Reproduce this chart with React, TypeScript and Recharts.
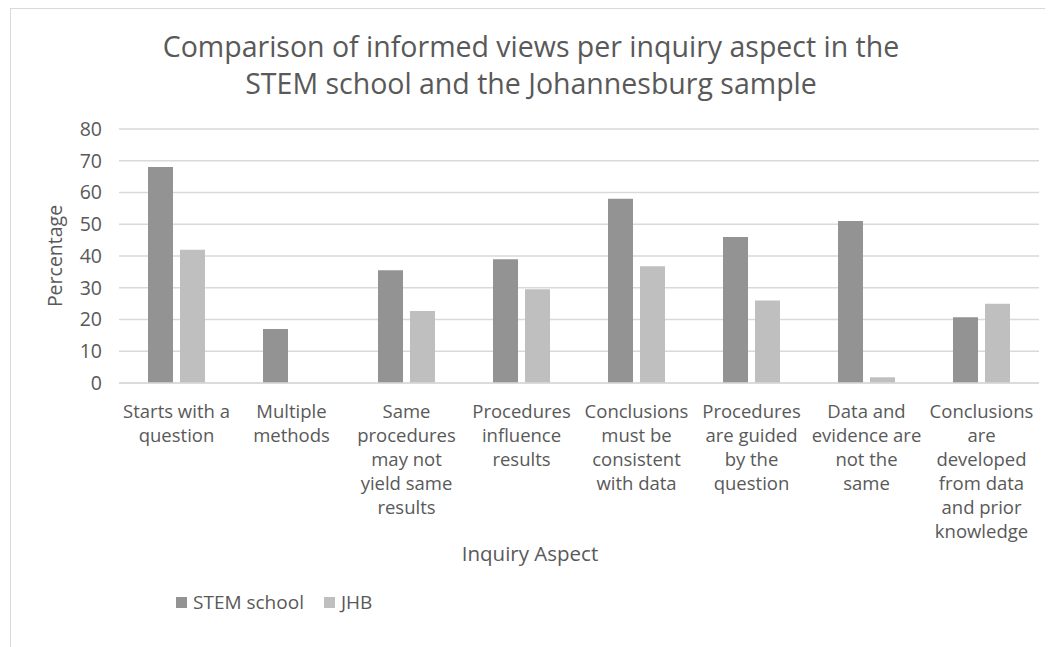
import React from 'react';
import { BarChart, Bar, XAxis, YAxis, CartesianGrid, Legend, Label } from 'recharts';

const categories = [
  'Starts with a\nquestion',
  'Multiple\nmethods',
  'Same\nprocedures\nmay not\nyield same\nresults',
  'Procedures\ninfluence\nresults',
  'Conclusions\nmust be\nconsistent\nwith data',
  'Procedures\nare guided\nby the\nquestion',
  'Data and\nevidence are\nnot the\nsame',
  'Conclusions\nare\ndeveloped\nfrom data\nand prior\nknowledge',
];
const stemSchool = [68, 17, 35.5, 39, 58, 46, 51, 20.7];
const jhb = [42, 0, 22.7, 29.5, 36.8, 26, 1.8, 25];
const yTicks = [0, 10, 20, 30, 40, 50, 60, 70, 80];
const seriesOrder = ['STEM school', 'JHB'];

const FONT = "'Open Sans', 'Liberation Sans', sans-serif";
const TEXT = '#595959';

const data = categories.map((c, i) => ({ aspect: c, stem: stemSchool[i], jhb: jhb[i] }));

const AspectTick = (props: any) => {
  const { x, y, payload } = props;
  const lines: string[] = String(payload.value).split('\n');
  return (
    <text x={x} y={y} textAnchor="middle" fill={TEXT} fontSize={18.5} fontFamily={FONT}>
      {lines.map((l, i) => (
        <tspan key={i} x={x} dy={i === 0 ? 27 : 24}>{l}</tspan>
      ))}
    </text>
  );
};

const LegendBox = (props: any) => {
  const items = [...(props.payload || [])].sort(
    (a: any, b: any) => seriesOrder.indexOf(a.value) - seriesOrder.indexOf(b.value)
  );
  return (
    <div style={{ display: 'flex', alignItems: 'center', fontFamily: FONT, fontSize: 19, color: TEXT }}>
      {items.map((p: any, i: number) => (
        <div key={i} style={{ display: 'flex', alignItems: 'center', marginRight: 20 }}>
          <span style={{ display: 'inline-block', width: 11, height: 11, background: p.color, marginRight: 6 }} />
          <span>{p.value}</span>
        </div>
      ))}
    </div>
  );
};

export default function App() {
  return (
    <div style={{ position: 'relative', marginLeft: 2, width: 1060, height: 660, borderLeft: '1px solid #d9d9d9', borderTop: '1px solid #d9d9d9', fontFamily: FONT }}>
      <div style={{ position: 'absolute', top: 19, left: 0, width: 1040, textAlign: 'center', fontSize: 28.5, lineHeight: '37px', color: TEXT, zIndex: 2 }}>
        Comparison of informed views per inquiry aspect in the<br />STEM school and the Johannesburg sample
      </div>
      <BarChart
        width={1045}
        height={640}
        data={data}
        margin={{ top: 120, right: 17, bottom: 106, left: 40 }}
        barSize={25}
        barGap={7}
      >
        <CartesianGrid vertical={false} stroke="#d9d9d9" strokeWidth={1.5} />
        <XAxis
          dataKey="aspect"
          interval={0}
          height={160}
          tick={<AspectTick />}
          tickLine={false}
          axisLine={{ stroke: '#d9d9d9', strokeWidth: 1.5 }}
        >
          <Label value="Inquiry Aspect" position="bottom" offset={3} dx={-49} fill={TEXT} fontSize={20.5} fontFamily={FONT} />
        </XAxis>
        <YAxis
          width={68}
          domain={[0, 80]}
          ticks={yTicks}
          interval={0}
          tickLine={false}
          axisLine={false}
          tickMargin={11}
          tick={{ fill: TEXT, fontSize: 19.5, fontFamily: FONT }}
        >
          <Label value="Percentage" angle={-90} position="center" dx={-30} fill={TEXT} fontSize={19.5} fontFamily={FONT} />
        </YAxis>
        <Legend
          layout="horizontal"
          verticalAlign="middle"
          align="center"
          wrapperStyle={{ left: 165, top: 580, width: 'auto' }}
          content={<LegendBox />}
        />
        <Bar dataKey="stem" name="STEM school" fill="#939393" isAnimationActive={false} />
        <Bar dataKey="jhb" name="JHB" fill="#bfbfbf" isAnimationActive={false} />
      </BarChart>
    </div>
  );
}
